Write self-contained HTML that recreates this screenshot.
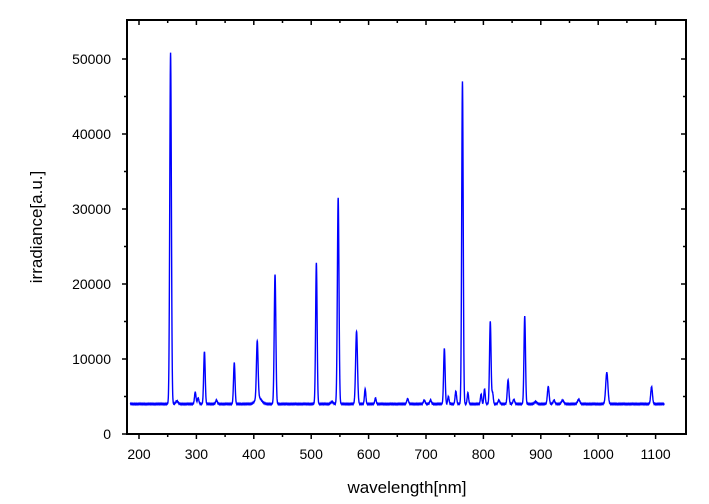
<!DOCTYPE html>
<html><head><meta charset="utf-8"><style>
body{margin:0;background:#fff}
svg{display:block;font-family:"Liberation Sans",Arial,sans-serif}
</style></head><body>
<svg id="s" width="709" height="504" xmlns="http://www.w3.org/2000/svg">
<rect x="127" y="20" width="559" height="414" fill="none" stroke="#000" stroke-width="2"/>
<g id="ax" stroke="#000" stroke-width="1.5"></g>
<g id="lb" font-size="14" fill="#000"></g>
<path id="p" fill="none" stroke="#0000ff" stroke-width="1.4"/>
<text x="407" y="493" font-size="17" text-anchor="middle">wavelength[nm]</text>
<text transform="translate(42,227) rotate(-90)" font-size="17" text-anchor="middle">irradiance[a.u.]</text>
</svg>
<script>
var X=function(w){return 139+(w-200)*0.574},Y=function(v){return 434-v*0.0075};
var ax=document.getElementById('ax'),lb=document.getElementById('lb'),h='',t='';
for(var w=200;w<=1100;w+=50){var x=X(w),L=(w%100==0)?5:3;
h+='<line x1="'+x+'" y1="434" x2="'+x+'" y2="'+(434+L)+'"/><line x1="'+x+'" y1="20" x2="'+x+'" y2="'+(20+L)+'"/>';
if(w%100==0)t+='<text x="'+x+'" y="459" text-anchor="middle">'+w+'</text>';}
for(var v=0;v<=50000;v+=5000){var y=Y(v),L=(v%10000==0)?5:3;
h+='<line x1="127" y1="'+y+'" x2="'+(127-L)+'" y2="'+y+'"/><line x1="686" y1="'+y+'" x2="'+(686-L)+'" y2="'+y+'"/>';
if(v%10000==0)t+='<text x="111" y="'+(y+5)+'" text-anchor="end">'+v+'</text>';}
ax.innerHTML=h;lb.innerHTML=t;
var pk=[[255,46800,1.4],[266,400,2],[298,1600,1.3],[303,800,1.3],[314,7000,1.3],[335,500,1.5],[366,5500,1.3],[406,7600,1.4],[408,900,5],[437,17300,1.4],[509,18800,1.3],[536,300,2],[547,27500,1.4],[579,9700,1.6],[594,2000,1.2],[612,800,1.2],[668,700,1.5],[697,500,1.5],[708,500,1.5],[732,7400,1.3],[739,1000,1.2],[752,1700,1.3],[763.5,43000,1.3],[773,1500,1.2],[796,1300,1.2],[802,2000,1.2],[812,11000,1.3],[816,1500,1.2],[827,500,1.5],[843,3200,1.4],[853,600,1.5],[872,11700,1.3],[891,300,2],[913,2300,1.5],[923,500,1.5],[938,500,2],[966,600,2],[1015,4200,1.9],[1093,2300,1.5]];
var d='';for(var w=185;w<=1115;w+=0.25){var v=4000+Math.sin(w*7.3)*40;
for(var i=0;i<pk.length;i++){var q=pk[i],z=(w-q[0])/q[2];if(Math.abs(z)<8)v+=q[1]*Math.exp(-z*z/2);}
d+=(d?'L':'M')+X(w).toFixed(2)+','+Y(v).toFixed(2);}
document.getElementById('p').setAttribute('d',d);
</script>
</body></html>
